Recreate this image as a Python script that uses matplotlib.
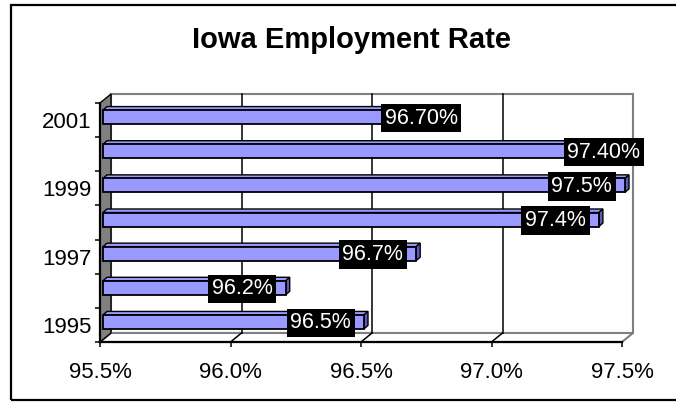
import matplotlib
matplotlib.use("Agg")
import matplotlib.pyplot as plt
from matplotlib.patches import Polygon, Rectangle

plt.rcParams['font.family'] = ['Liberation Sans', 'DejaVu Sans']

# data
years = ['1995', '1996', '1997', '1998', '1999', '2000', '2001']
rates = [96.5, 96.2, 96.7, 97.4, 97.5, 97.4, 96.7]
labels = ['96.5%', '96.2%', '96.7%', '97.4%', '97.5%', '97.40%', '96.70%']
label_pos = ['in', 'in', 'in', 'in', 'in', 'end', 'end']
xticks = [95.5, 96.0, 96.5, 97.0, 97.5]

xmin, xmax = 95.5, 97.5
W, H = 676, 403
fig = plt.figure(figsize=(W / 100, H / 100), dpi=100)
ax = fig.add_axes([100 / W, 61 / H, 522 / W, 239 / H])
ax.set_xlim(xmin, xmax)
ax.set_ylim(-0.5, len(years) - 0.5)
for s in ax.spines.values():
    s.set_visible(False)

# pixel -> data
px = (xmax - xmin) / 522
py = len(years) / 239
ddx, ddy = 11 * px, 9 * py
ytop = len(years) - 0.5
ybot = -0.5

# outer frame
fig.patches.append(Rectangle((11 / W, 3 / H), 1.2, (395) / H, transform=fig.transFigure,
                             fill=False, ec='black', lw=1.6))

# back wall
ax.add_patch(Polygon([(xmin + ddx, ybot + ddy), (xmax + ddx, ybot + ddy),
                      (xmax + ddx, ytop + ddy), (xmin + ddx, ytop + ddy)],
                     closed=True, fc='white', ec='#808080', lw=1.5, clip_on=False, zorder=1))
# floor
ax.add_patch(Polygon([(xmin, ybot), (xmax, ybot), (xmax + ddx, ybot + ddy), (xmin + ddx, ybot + ddy)],
                     closed=True, fc='white', ec='#808080', lw=1.5, clip_on=False, zorder=1))
# gridlines on wall and floor
for t in xticks[1:-1]:
    ax.plot([t + ddx, t + ddx], [ybot + ddy, ytop + ddy], color='black', lw=1.1, clip_on=False, zorder=2)
    ax.plot([t, t + ddx], [ybot, ybot + ddy], color='black', lw=1.1, clip_on=False, zorder=2)
# left wall
ax.add_patch(Polygon([(xmin, ybot), (xmin + ddx, ybot + ddy), (xmin + ddx, ytop + ddy), (xmin, ytop)],
                     closed=True, fc='#808080', ec='black', lw=1.0, clip_on=False, zorder=2))
# axes lines
ax.plot([xmin, xmax], [ybot, ybot], color='black', lw=1.6, clip_on=False, zorder=3)
ax.plot([xmin, xmin], [ybot, ytop], color='black', lw=1.6, clip_on=False, zorder=3)

# bars
h = 14 * py
fx, fy = 3 * px, 3 * py
bx, by = 7 * px, 6.5 * py
face = '#9999ff'
side = '#5c5cb8'
ys = list(range(len(years)))
bars = ax.barh([y + fy for y in ys], [r - xmin for r in rates], left=xmin + fx, height=h,
               color=face, edgecolor='black', lw=1.3, zorder=5)
for b in bars:
    b.set_clip_on(False)
for y, r in zip(ys, rates):
    t = y + h / 2
    b = y - h / 2
    ax.add_patch(Polygon([(xmin + fx, t + fy), (r + fx, t + fy), (r + bx, t + by), (xmin + bx, t + by)],
                         closed=True, fc=face, ec='black', lw=1.0, zorder=4, clip_on=False))
    ax.add_patch(Polygon([(r + fx, b + fy), (r + bx, b + by), (r + bx, t + by), (r + fx, t + fy)],
                         closed=True, fc=side, ec='black', lw=1.0, zorder=4, clip_on=False))

# data labels
for y, r, lab, pos in zip(ys, rates, labels, label_pos):
    if pos == 'in':
        x, ha = r + fx - 13 * px, 'right'
    else:
        x, ha = r + fx + 5 * px, 'center'
    ax.text(x, y + fy - 1 * py, lab, ha=ha, va='center', color='white', fontsize=15.5, zorder=7,
            bbox=dict(boxstyle='square,pad=0.17', fc='black', ec='none'), clip_on=False)

# ticks
ax.set_xticks(xticks)
ax.set_xticklabels(['%.1f%%' % t for t in xticks], fontsize=16)
ax.tick_params(axis='x', direction='out', length=3.6, width=1.1, pad=11)
ax.set_yticks([y - 0.5 for y in ys] + [ytop])
ax.set_yticklabels([])
ax.set_yticks(ys[::2], minor=True)
ax.set_yticklabels(years[::2], minor=True, fontsize=16)
ax.tick_params(axis='y', which='major', direction='out', length=3.6, width=1.1)
ax.tick_params(axis='y', which='minor', length=0, pad=6)

fig.text(351 / W, 1 - 40 / H, 'Iowa Employment Rate', ha='center', va='center',
         fontsize=21, fontweight='bold')

fig.savefig('out.png', dpi=100)
